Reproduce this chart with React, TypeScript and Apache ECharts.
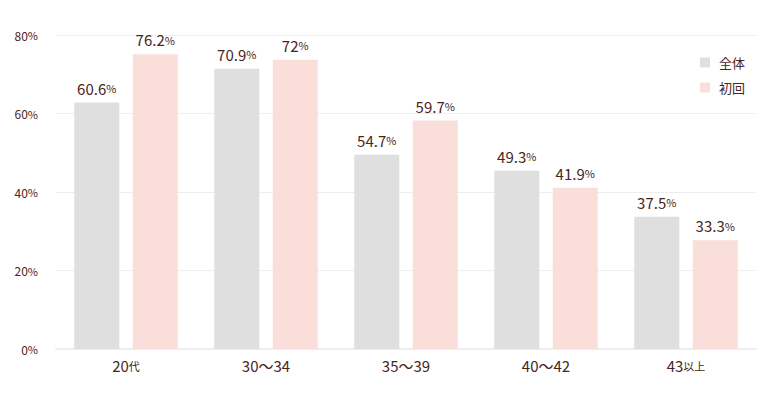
import React, { useEffect, useRef } from "react";
import * as echarts from "echarts";

const categories = ["20代", "30～34", "35～39", "40～42", "43以上"];
const seriesNames = ["全体", "初回"];
// bar heights as drawn in the picture
const allValues = [62.8, 71.4, 49.5, 45.4, 33.7];
const firstValues = [75.1, 73.7, 58.2, 41.1, 27.7];
// value labels as printed
const allLabels = ["60.6", "70.9", "54.7", "49.3", "37.5"];
const firstLabels = ["76.2", "72", "59.7", "41.9", "33.3"];
const yTicks = [0, 20, 40, 60, 80];

const TEXT = "#4a2520";
const FONT = "'Noto Sans CJK JP', 'Noto Sans', sans-serif";

export default function App() {
  const ref = useRef<HTMLDivElement>(null);
  useEffect(() => {
    if (!ref.current) return;
    const chart = echarts.init(ref.current, undefined, { renderer: "svg" });
    const catRich = {
      n: { fontSize: 15, color: TEXT, fontFamily: FONT },
      s: { fontSize: 11, color: TEXT, fontFamily: FONT },
    };
    const labelRich = {
      n: { fontSize: 15, color: TEXT, fontFamily: FONT },
      p: { fontSize: 11, color: TEXT, fontFamily: FONT },
    };
    const mkLabel = (arr: string[]) => ({
      show: true,
      position: "top" as const,
      distance: 7,
      formatter: (p: any) => `{n|${arr[p.dataIndex]}}{p|%}`,
      rich: labelRich,
    });
    chart.setOption({
      animation: false,
      textStyle: { fontFamily: FONT },
      grid: { left: 56, right: 21, top: 35, bottom: 44, containLabel: false },
      legend: {
        orient: "vertical",
        right: 27,
        top: 51,
        itemWidth: 10,
        itemHeight: 10,
        itemGap: 12,
        icon: "rect",
        data: seriesNames,
        textStyle: { fontSize: 13, color: TEXT, fontFamily: FONT, padding: [0, 0, 0, 4] },
      },
      xAxis: {
        type: "category",
        data: categories,
        axisTick: { show: false },
        axisLine: { lineStyle: { color: "#eeeeee", width: 2 } },
        axisLabel: {
          margin: 9,
          formatter: (v: string) => {
            const m = v.match(/^([0-9～]+)(.*)$/);
            if (m && m[2]) return `{n|${m[1]}}{s|${m[2]}}`;
            return `{n|${v}}`;
          },
          rich: catRich,
        },
      },
      yAxis: {
        type: "value",
        min: 0,
        max: 80,
        interval: 20,
        axisLine: { show: false },
        axisTick: { show: false },
        splitLine: { lineStyle: { color: "#eeeeee", width: 1 } },
        axisLabel: {
          margin: 18,
          formatter: (v: number) => (yTicks.includes(v) ? `{n|${v}}{p|%}` : ""),
          rich: {
            n: { fontSize: 12, color: TEXT, fontFamily: FONT },
            p: { fontSize: 11, color: TEXT, fontFamily: FONT },
          },
        },
      },
      series: [
        {
          name: seriesNames[0],
          type: "bar",
          data: allValues,
          barWidth: 45,
          barGap: "30%",
          itemStyle: { color: "#dfdfdf" },
          label: mkLabel(allLabels),
        },
        {
          name: seriesNames[1],
          type: "bar",
          data: firstValues,
          barWidth: 45,
          barGap: "30%",
          itemStyle: { color: "#f9ded9" },
          label: mkLabel(firstLabels),
        },
      ],
    });
    return () => chart.dispose();
  }, []);
  return (
    <div
      ref={ref}
      style={{ position: "fixed", left: 0, top: 0, width: 777, height: 393, background: "#fff" }}
    />
  );
}
